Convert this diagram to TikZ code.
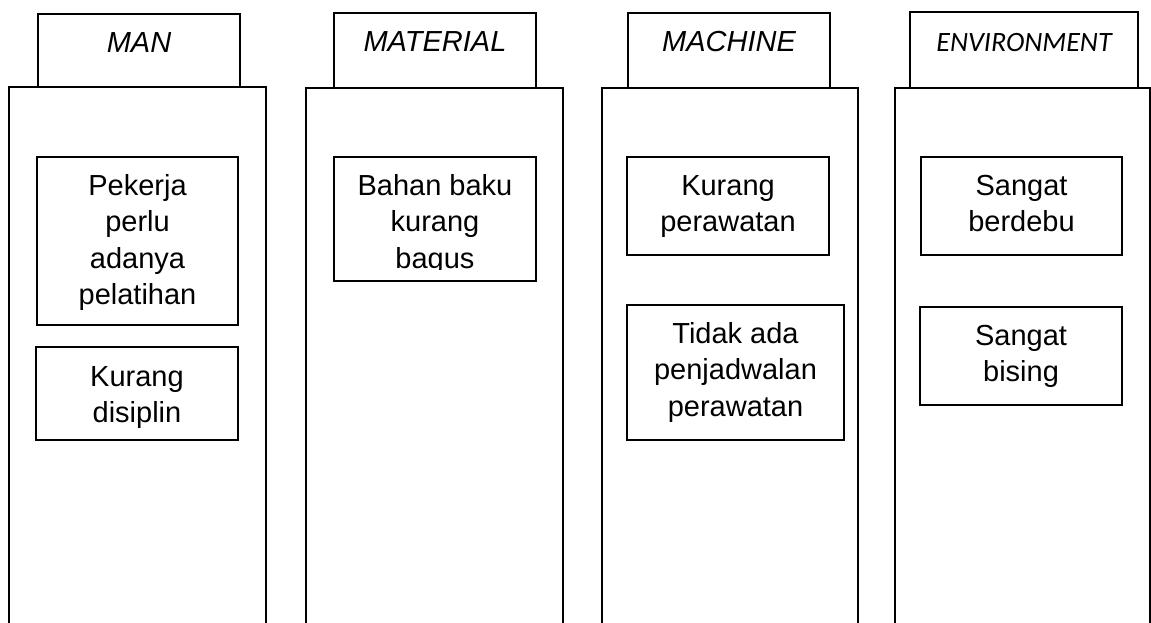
\documentclass[tikz,border=0pt]{standalone}
\usepackage{fontspec}
\setmainfont{Liberation Sans}
\newfontfamily\envfont{Carlito}
\usetikzlibrary{fit}
\newcommand{\mlines}[1]{\begin{tabular}[t]{@{}c@{}}#1\end{tabular}}
\begin{document}
\begin{tikzpicture}[x=1pt,y=-1pt,
  colframe/.style={draw, line width=2.2pt, line join=miter},
  hdrbox/.style={draw, line width=2.2pt, fill=white, inner sep=0pt, outer sep=0pt},
  itembox/.style={draw, line width=2.2pt, inner sep=0pt, outer sep=0pt},
  hdrtxt/.style={font=\fontsize{29}{34}\selectfont\itshape, inner sep=0pt, anchor=base},
  envtxt/.style={font=\envfont\fontsize{28}{34}\selectfont\itshape, inner sep=0pt, anchor=base},
  itemtxt/.style={font=\fontsize{29}{36.5}\selectfont, inner sep=0pt, anchor=base}]
\useasboundingbox[fill=white] (0,0) rectangle (1151,622);

% columns (open at the bottom)
\draw[colframe] (9,640) |- (266,87) -- (266,640);
\draw[colframe] (306,640) |- (563,88) -- (563,640);
\draw[colframe] (602,640) |- (858,88) -- (858,640);
\draw[colframe] (895,640) |- (1150,88) -- (1150,640);

% headers
\node[hdrbox, fit={(38,14) (240,87)}] (h1) {};
\node[hdrbox, fit={(334,13) (536,88)}] (h2) {};
\node[hdrbox, fit={(628,13) (830,88)}] (h3) {};
\node[hdrbox, fit={(910,12) (1138,88)}] (h4) {};
\node[hdrtxt] (l1) at ([yshift=-38.5pt]h1.north) {MAN};
\node[hdrtxt] (l2) at ([yshift=-38.5pt]h2.north) {MATERIAL};
\node[hdrtxt] (l3) at ([yshift=-38.5pt]h3.north) {MACHINE};
\node[envtxt] (l4) at ([yshift=-39pt]h4.north) {ENVIRONMENT};

% item boxes
\node[itembox, fit={(37,157) (238,325)}] (b1) {};
\node[itembox, fit={(36,347) (238,440)}] (b2) {};
\node[itembox, fit={(334,157) (536,281)}] (b3) {};
\node[itembox, fit={(627,157) (829,255)}] (b4) {};
\node[itembox, fit={(627,305) (844,440)}] (b5) {};
\node[itembox, fit={(921,157) (1122,255)}] (b6) {};
\node[itembox, fit={(920,307) (1122,405)}] (b7) {};

% item texts
\node[itemtxt] (t1) at ([yshift=-38pt]b1.north) {\mlines{Pekerja\\perlu\\adanya\\pelatihan}};
\node[itemtxt] (t2) at ([yshift=-39pt]b2.north) {\mlines{Kurang\\disiplin}};
\begin{scope}
  \clip (334,157) rectangle (536,269.5);
  \node[itemtxt] (t3) at ([yshift=-38pt]b3.north) {\mlines{Bahan baku\\kurang\\bagus}};
\end{scope}
\node[itemtxt] (t4) at ([yshift=-38pt]b4.north) {\mlines{Kurang\\perawatan}};
\node[itemtxt] (t5) at ([yshift=-38pt]b5.north) {\mlines{Tidak ada\\penjadwalan\\perawatan}};
\node[itemtxt] (t6) at ([yshift=-38pt]b6.north) {\mlines{Sangat\\berdebu}};
\node[itemtxt] (t7) at ([yshift=-38pt]b7.north) {\mlines{Sangat\\bising}};
\end{tikzpicture}
\end{document}
